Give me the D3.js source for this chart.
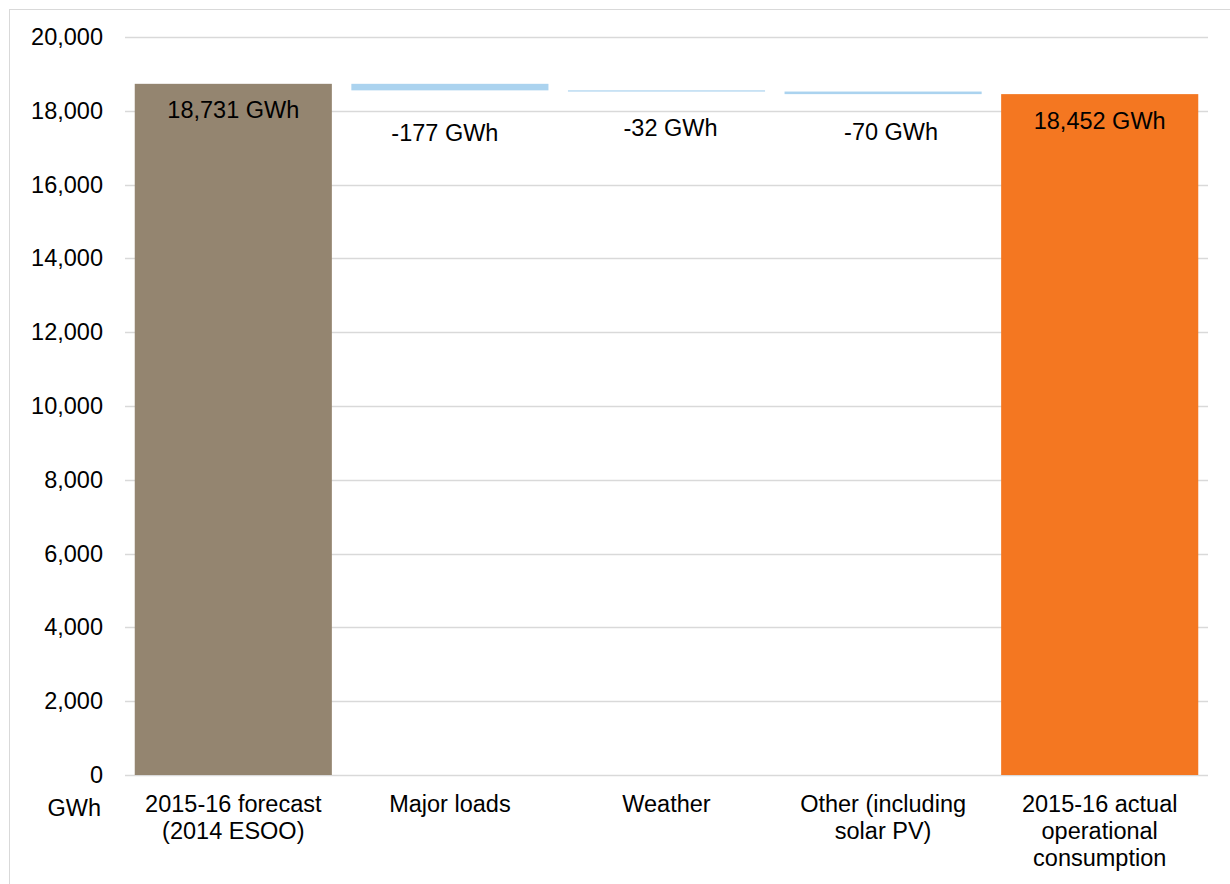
<!DOCTYPE html>
<html>
<head>
<meta charset="utf-8">
<script src="https://cdn.jsdelivr.net/npm/d3@7"></script>
<style>
  html, body { margin: 0; padding: 0; background: #fff; }
  svg { display: block; font-family: "Liberation Sans", Arial, sans-serif; }
</style>
</head>
<body>
<svg id="chart" width="1230" height="884"></svg>
<script>
// Energy consumption bridge: 2015-16 forecast to actual (GWh)
const categories = [
  ["2015-16 forecast", "(2014 ESOO)"],
  ["Major loads"],
  ["Weather"],
  ["Other (including", "solar PV)"],
  ["2015-16 actual", "operational", "consumption"]
];
const startTotal = 18731;
const changes = [-177, -32, -70];
const endTotal = 18452;
const yTicks = [0, 2000, 4000, 6000, 8000, 10000, 12000, 14000, 16000, 18000, 20000];
const valueLabels = ["18,731 GWh", "-177 GWh", "-32 GWh", "-70 GWh", "18,452 GWh"];

const FONT = 23.5;
const svg = d3.select("#chart");
const W = 1230, H = 884;
const plot = { left: 125, right: 1208, top: 37, bottom: 775 };

// Outer chart frame
svg.append("rect")
  .attr("x", 9.5).attr("y", 9.5)
  .attr("width", W).attr("height", H)
  .attr("fill", "none").attr("stroke", "#d9d9d9").attr("stroke-width", 1);

const x = d3.scaleBand()
  .domain(d3.range(categories.length))
  .range([plot.left, plot.right])
  .paddingInner(0.09).paddingOuter(0.045);

const y = d3.scaleLinear().domain([0, 20000]).range([plot.bottom, plot.top]);

// Gridlines
svg.append("g").selectAll("line")
  .data(yTicks)
  .join("line")
  .attr("x1", plot.left).attr("x2", plot.right)
  .attr("y1", d => Math.round(y(d)) + 0.5).attr("y2", d => Math.round(y(d)) + 0.5)
  .attr("stroke", "#d9d9d9").attr("stroke-width", 1.3);

// Y axis tick labels
const yAxis = d3.axisLeft(y).tickValues(yTicks).tickFormat(d3.format(",")).tickSize(0).tickPadding(0);
const gy = svg.append("g").attr("transform", `translate(${plot.left - 22},0)`).call(yAxis);
gy.select(".domain").remove();
gy.selectAll("text").attr("font-size", FONT).attr("fill", "#000").attr("font-family", "Liberation Sans, Arial, sans-serif");

svg.append("text")
  .attr("x", 101).attr("y", 816)
  .attr("text-anchor", "end").attr("font-size", FONT).attr("fill", "#000")
  .text("GWh");

// Build waterfall segments from the data
const segments = [];
segments.push({ i: 0, lo: 0, hi: startTotal, color: "#948570" });
let level = startTotal;
changes.forEach((c, k) => {
  const next = level + c;
  segments.push({ i: k + 1, lo: Math.min(level, next), hi: Math.max(level, next), color: "#abd3ef" });
  level = next;
});
segments.push({ i: 4, lo: 0, hi: endTotal, color: "#f47721" });

svg.append("g").selectAll("rect")
  .data(segments)
  .join("rect")
  .attr("x", d => x(d.i))
  .attr("width", x.bandwidth())
  .attr("y", d => y(d.hi))
  .attr("height", d => Math.max(1.2, y(d.lo) - y(d.hi)))
  .attr("fill", d => d.color);

// Value labels
const labelY = [118, 141, 136, 140, 129];
const labelDx = [0, -5, 4, 8, 0];
svg.append("g").selectAll("text")
  .data(valueLabels)
  .join("text")
  .attr("x", (d, i) => x(i) + x.bandwidth() / 2 + labelDx[i])
  .attr("y", (d, i) => labelY[i])
  .attr("text-anchor", "middle")
  .attr("font-size", FONT).attr("fill", "#000")
  .text(d => d);

// Category labels
const cat = svg.append("g");
categories.forEach((lines, i) => {
  const cx = x(i) + x.bandwidth() / 2;
  const t = cat.append("text")
    .attr("x", cx)
    .attr("y", 812)
    .attr("text-anchor", "middle")
    .attr("font-size", FONT).attr("fill", "#000");
  lines.forEach((ln, j) => {
    t.append("tspan").attr("x", cx).attr("dy", j === 0 ? 0 : 27).text(ln);
  });
});
</script>
</body>
</html>
